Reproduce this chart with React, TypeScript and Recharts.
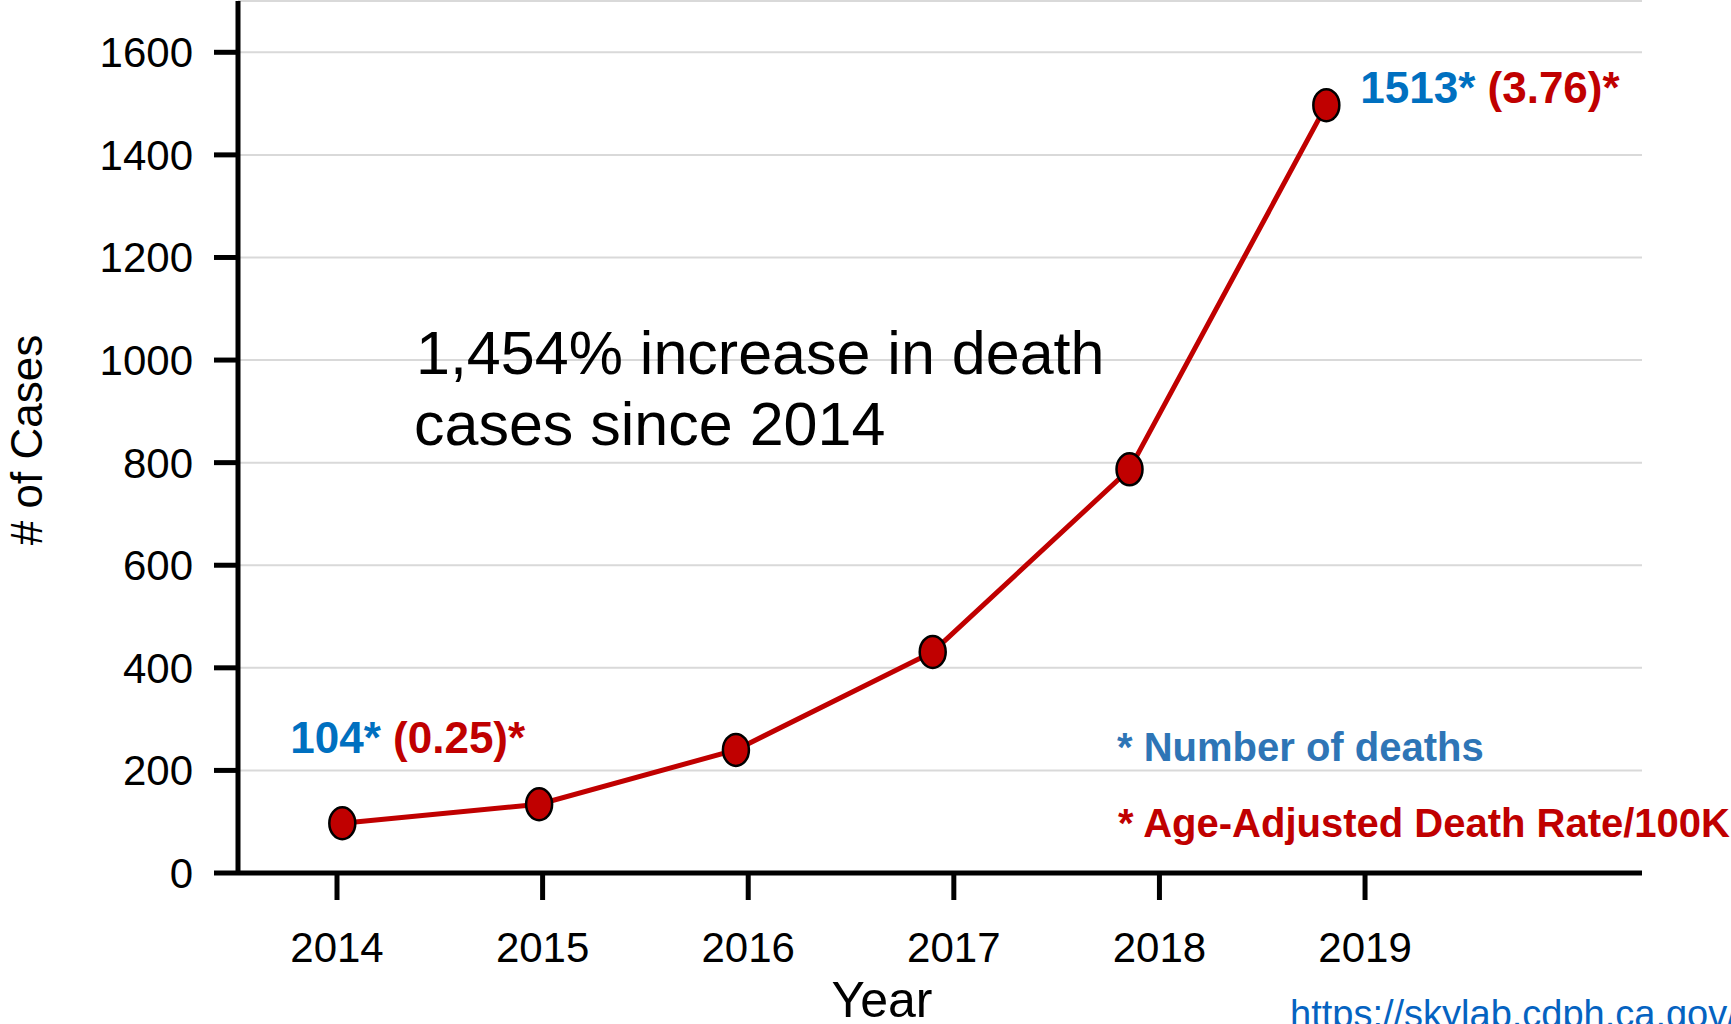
import { LineChart, Line, XAxis, YAxis, CartesianGrid, LabelList } from 'recharts';

// ─── Data ─────────────────────────────────────────────────────────────────────

const years = [2014, 2015, 2016, 2017, 2018, 2019];
const cases = [97, 134, 240, 431, 787, 1497];
const countNotes = ['104*', '', '', '', '', '1513*'];
const rateNotes = ['(0.25)*', '', '', '', '', '(3.76)*'];
const yTicks = [0, 200, 400, 600, 800, 1000, 1200, 1400, 1600];

const data = years.map((year, i) => ({ year, cases: cases[i], note: countNotes[i] }));

const RED = '#C00000';
const BLUE = '#0070C0';
const FONT = '"Liberation Sans", Arial, sans-serif';

// ─── Marks ────────────────────────────────────────────────────────────────────

function Dot(props: any) {
  const { cx, cy, index } = props;
  return (
    <ellipse key={`dot-${index}`} cx={cx} cy={cy} rx={13} ry={16}
      fill={RED} stroke="#000" strokeWidth={2.5} />
  );
}

function PointNote(props: any) {
  const { x, y, index } = props;
  const count = countNotes[index];
  if (!count) return null;
  const last = index === years.length - 1;
  const dx = last ? 34 : -52;
  const dy = last ? -2 : -70;
  return (
    <text x={x + dx} y={y + dy} fontSize={44} fontWeight="bold" fontFamily={FONT}
      style={{ whiteSpace: 'pre' }}>
      <tspan fill={BLUE}>{count + ' '}</tspan>
      <tspan fill={RED}>{rateNotes[index]}</tspan>
    </text>
  );
}

// ─── Chart ────────────────────────────────────────────────────────────────────

export default function App() {
  return (
    <div style={{
      position: 'absolute', left: 0, top: 0, width: 1731, height: 1024,
      overflow: 'hidden', background: '#fff', fontFamily: FONT,
    }}>
      <LineChart width={1731} height={1024} data={data}
        margin={{ top: 1, right: 89, bottom: 91, left: 0 }}>
        <CartesianGrid xAxisId="ticks" vertical={false} stroke="#d9d9d9" strokeWidth={2} />
        {/* point positions drift slightly left of the year ticks in the original */}
        <XAxis
          xAxisId="pts"
          type="number"
          dataKey="year"
          domain={[2013.47, 2020.604]}
          allowDataOverflow
          height={0}
          hide
        />
        <XAxis
          xAxisId="ticks"
          type="number"
          dataKey="year"
          domain={[2013.5185, 2020.347]}
          allowDataOverflow
          ticks={years}
          height={60}
          tick={{ fontSize: 42, fill: '#000' }}
          tickSize={27}
          tickMargin={32}
          axisLine={{ stroke: '#000', strokeWidth: 5 }}
          tickLine={{ stroke: '#000', strokeWidth: 5 }}
        />
        <YAxis
          type="number"
          domain={[0, 1700]}
          allowDataOverflow
          ticks={yTicks}
          width={238}
          tick={{ fontSize: 42, fill: '#000' }}
          tickSize={24}
          tickMargin={21}
          axisLine={{ stroke: '#000', strokeWidth: 5 }}
          tickLine={{ stroke: '#000', strokeWidth: 5 }}
        />
        <Line
          xAxisId="pts"
          type="linear"
          dataKey="cases"
          stroke={RED}
          strokeWidth={5}
          dot={Dot}
          activeDot={false}
          isAnimationActive={false}
        >
          <LabelList dataKey="note" content={PointNote} />
        </Line>
      </LineChart>

      <svg width={1731} height={1024}
        style={{ position: 'absolute', left: 0, top: 0, pointerEvents: 'none' }}>
        <text transform="translate(42,440) rotate(-90)" textAnchor="middle"
          fontSize={44} fill="#000">
          # of Cases
        </text>
        <text x={882} y={1017} textAnchor="middle" fontSize={50} fill="#000">Year</text>
        <text x={416} y={374} fontSize={61} fill="#000">1,454% increase in death</text>
        <text x={414} y={445} fontSize={61} fill="#000">cases since 2014</text>
        <text x={1117} y={761} fontSize={40} fontWeight="bold" fill="#2E75B6">
          * Number of deaths
        </text>
        <text x={1118} y={837} fontSize={40} fontWeight="bold" fill={RED}>
          * Age-Adjusted Death Rate/100K
        </text>
        <text x={1290} y={1027} fontSize={38} fill="#0563C1">https://skylab.cdph.ca.gov/</text>
      </svg>
    </div>
  );
}
